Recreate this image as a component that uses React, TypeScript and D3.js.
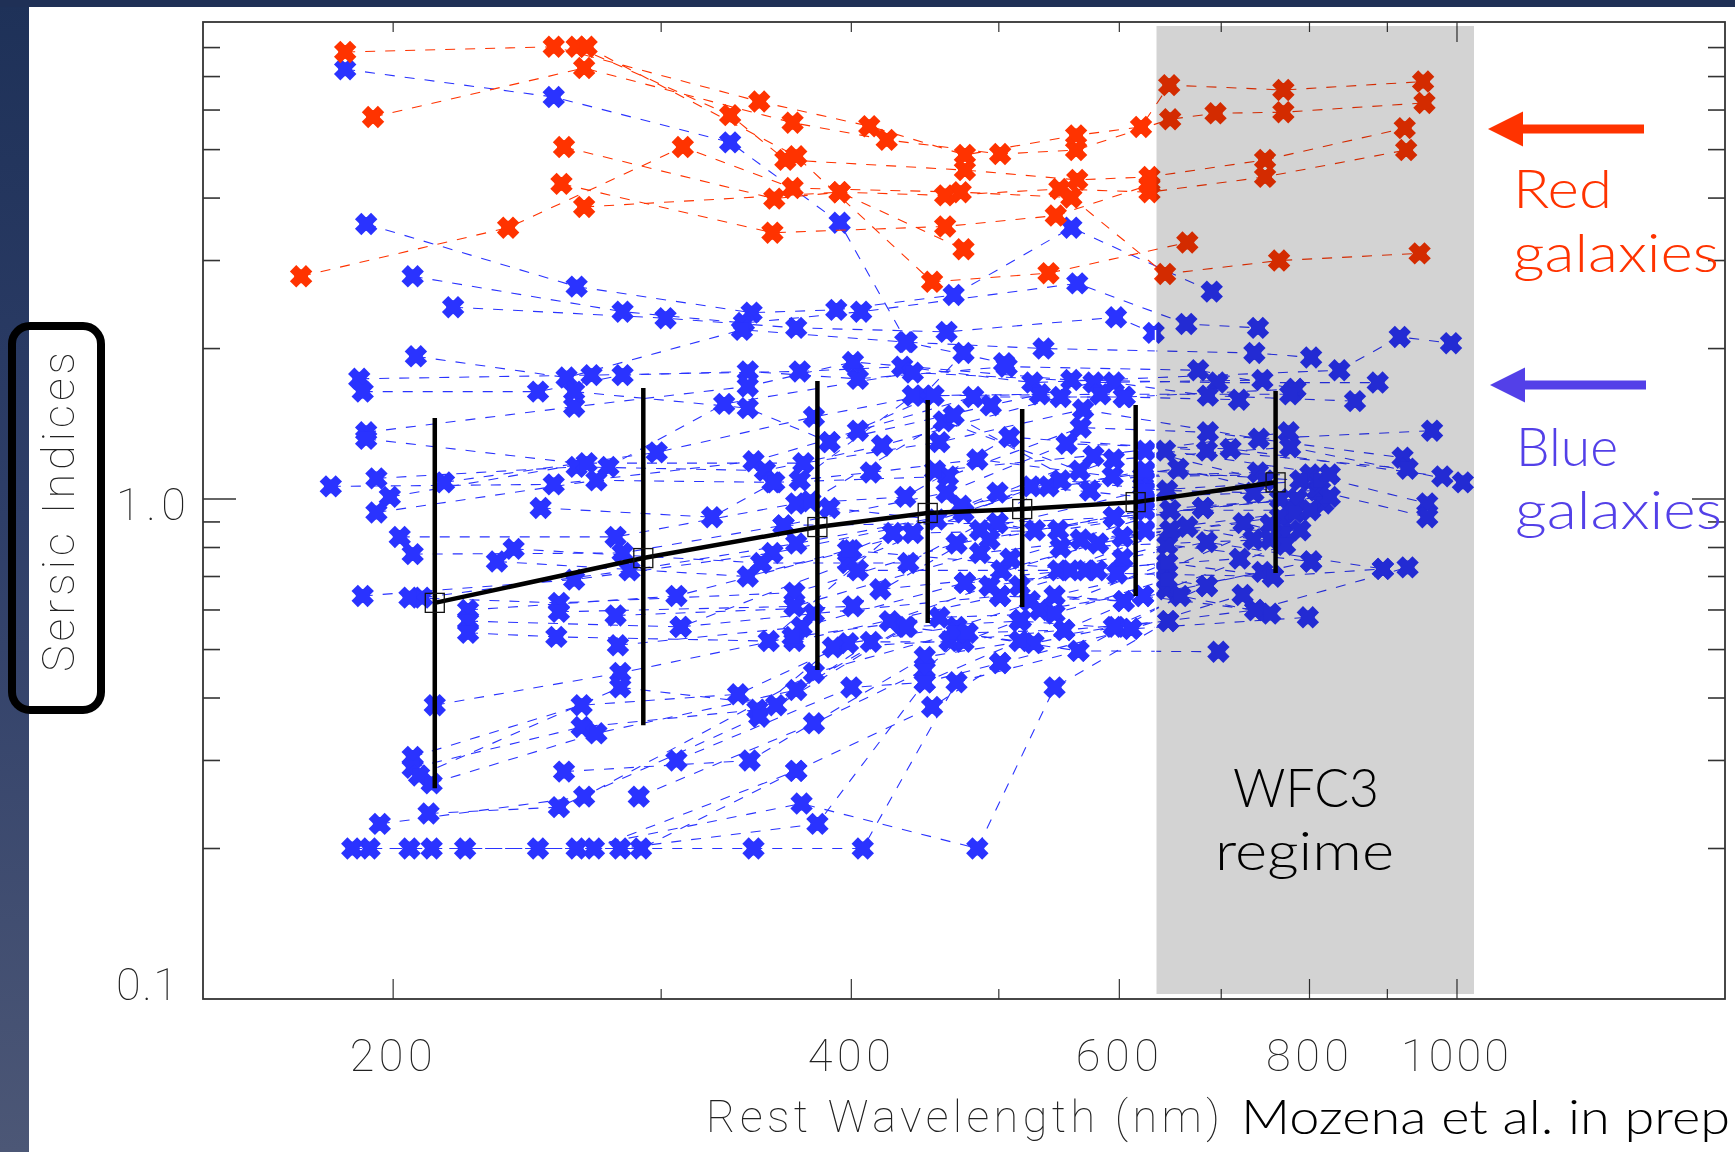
import React from 'react';
import * as d3 from 'd3';

// [rest wavelength in nm, Sersic index], one list per galaxy
const redGalaxies: number[][][] = [
  [[186,7.84],[255,8.03],[348,6.24],[411,5.57],[475,4.88],[562,5.34],[620,5.55],[647,6.73],[769,6.58],[950,6.84]],
  [[194,5.81],[267,7.28],[366,5.66],[422,5.23],[501,4.9],[562,4.99],[648,5.75],[694,5.91],[769,5.94],[952,6.2]],
  [[264,8.03],[333,5.86],[362,4.77],[475,4.55],[563,4.35],[628,4.41],[748,4.77],[924,5.52]],
  [[268,8.03],[368,4.85],[452,2.72],[539,2.83],[665,3.26]],
  [[259,5.06],[356,3.99],[393,4.11],[461,4.05],[548,4.17],[628,4.11],[748,4.41],[926,4.99]],
  [[174,2.79],[238,3.49],[310,5.06],[366,4.19],[472,4.11],[558,4.01],[643,2.82],[764,3.0],[945,3.1]],
  [[258,4.27],[355,3.41],[461,3.51],[545,3.69],[628,4.25]],
  [[267,3.84],[393,4.11],[474,3.16]],
];

const blueUpper: number[][][] = [
  [[186,7.24],[255,6.37],[333,5.17],[393,3.57],[435,2.06],[504,1.87]],
  [[192,3.55],[264,2.66],[344,2.36],[391,2.39],[467,2.56],[558,3.49],[690,2.6]],
  [[206,2.79],[283,2.37],[340,2.25],[406,2.37],[563,2.7],[664,2.24],[740,2.2]],
  [[219,2.42],[302,2.3],[368,2.2],[462,2.16],[597,2.31],[632,2.15]],
  [[207,1.93],[260,1.75],[339,2.18],[434,2.06],[535,2.0],[736,1.96],[802,1.92]],
  [[190,1.74],[270,1.77],[370,1.8],[432,1.84],[526,1.71],[837,1.81],[917,2.11],[991,2.05]],
  [[191,1.64],[249,1.64],[283,1.77],[342,1.8],[404,1.74],[506,1.84],[676,1.81],[783,1.66]],
  [[192,1.36],[263,1.53],[342,1.68],[401,1.88],[558,1.73],[696,1.71],[887,1.71]],
  [[192,1.32],[277,1.16],[330,1.55],[439,1.79],[595,1.71],[686,1.61],[857,1.57]],
  [[263,1.64],[342,1.52],[387,1.3],[494,1.54],[577,1.71],[745,1.73]],
  [[216,1.08],[298,1.24],[378,1.46],[446,1.61],[474,1.96]],
];

const blueMiddle: number[][][] = [
  [[182,1.06],[255,1.07],[345,1.19],[404,1.37],[481,1.6],[604,1.6],[719,1.58]],
  [[195,1.10],[264,1.16],[351,1.14],[419,1.28],[549,1.6],[605,1.6],[783,1.66]],
  [[199,1.01],[268,1.18],[372,1.18],[457,1.30],[568,1.51],[741,1.32],[963,1.37]],
  [[195,0.94],[272,1.09],[355,1.08],[463,1.11],[566,1.39],[686,1.36],[921,1.21]],
  [[202,0.84],[280,0.84],[368,0.98],[434,1.01],[508,1.33],[685,1.25],[928,1.15]],
  [[206,0.776],[283,0.78],[361,0.886],[462,1.03],[554,1.29],[710,1.26],[978,1.11]],
  [[191,0.64],[263,0.69],[355,0.78],[455,0.91],[577,1.22],[775,1.36]],
  [[209,0.635],[286,0.72],[368,0.815],[474,0.94],[595,1.2],[777,1.27],[1009,1.08]],
  [[224,0.6],[307,0.64],[400,0.79],[499,1.03],[622,1.11],[801,1.12],[956,0.98]],
  [[224,0.57],[309,0.555],[398,0.745],[525,1.06],[622,1.01],[809,1.04],[956,0.92]],
  [[224,0.54],[256,0.53],[353,0.52],[426,0.855],[539,1.06],[656,1.15],[817,0.98]],
  [[250,0.96],[324,0.92],[356,1.08],[412,1.13],[484,1.2],[594,1.11],[740,1.13]],
  [[240,0.795],[349,0.745],[436,0.745],[549,1.09],[645,1.04],[735,1.03]],
  [[234,0.75],[342,0.7],[439,0.855],[547,0.866],[681,0.96],[765,1.0]],
  [[205,0.635],[257,0.62],[367,0.65],[469,0.815],[595,0.92],[785,1.0]],
  [[257,0.595],[367,0.61],[486,0.78],[603,0.84],[765,0.92]],
  [[280,0.585],[401,0.61],[499,0.895],[566,0.83],[724,0.895],[769,0.855]],
  [[281,0.51],[371,0.555],[475,0.68],[581,0.815],[665,0.88],[735,0.83]],
  [[309,0.555],[378,0.59],[501,0.64],[603,0.76],[685,0.82],[894,0.725]],
  [[361,0.886],[499,0.895],[595,0.92],[785,1.0]],
  [[387,0.96],[528,0.866],[681,0.96]],
  [[404,0.72],[547,0.72],[645,0.81],[802,0.75]],
  [[398,0.79],[570,0.72],[645,0.745]],
  [[367,0.52],[501,0.64],[604,0.625]],
  [[475,0.68],[598,0.71],[757,0.7]],
  [[622,0.64],[737,0.6]],
];

// the crowded blobs around the WFC3 edge and near 800 nm
const blueCrowded: number[][][] = [
  [[454,1.14],[624,1.25],[748,1.09]],
  [[472,0.97],[624,1.14],[789,1.09]],
  [[486,0.866],[624,1.04],[813,1.09]],
  [[493,0.83],[624,0.95],[825,1.01]],
  [[502,0.72],[624,0.866],[783,0.94]],
  [[509,0.76],[648,0.95],[801,0.95]],
  [[516,0.67],[648,0.866],[789,0.866]],
  [[524,0.625],[643,0.72],[754,0.89]],
  [[532,0.6],[644,0.66],[771,0.81]],
  [[643,1.25],[825,1.12]],
  [[549,0.8],[754,0.83]],
  [[387,1.3],[453,1.61],[583,1.62],[777,1.62]],
  [[370,1.09],[439,1.61],[532,1.62]],
  [[376,0.99],[460,1.43],[565,1.14]],
  [[467,1.47],[574,1.04]],
  [[418,0.66],[557,0.72],[720,0.76]],
  [[424,0.57],[493,0.67],[580,0.72]],
];

const blueLower: number[][][] = [
  [[213,0.387],[282,0.449],[366,0.53],[457,0.58],[544,0.59],[645,0.69],[685,0.67]],
  [[206,0.305],[266,0.387],[337,0.407],[398,0.515],[469,0.555],[544,0.64],[604,0.625],[802,0.75]],
  [[206,0.29],[266,0.35],[347,0.379],[389,0.505],[464,0.52],[552,0.547],[622,0.64],[745,0.715]],
  [[208,0.28],[282,0.42],[357,0.387],[412,0.518],[474,0.518],[517,0.574],[645,0.745],[757,0.7],[894,0.725]],
  [[212,0.27],[272,0.34],[368,0.415],[434,0.555],[527,0.515],[597,0.555],[737,0.6],[928,0.73]],
  [[211,0.235],[257,0.242],[348,0.367],[435,0.555],[516,0.57],[611,0.55],[723,0.643]],
  [[196,0.224],[267,0.254],[378,0.449],[469,0.54],[564,0.497],[658,0.64],[754,0.59]],
  [[259,0.285],[343,0.3],[447,0.483],[595,0.555],[685,0.67]],
  [[290,0.254],[378,0.356],[447,0.455],[477,0.54],[552,0.547],[646,0.57]],
  [[307,0.3],[400,0.42],[447,0.43],[501,0.47],[611,0.55],[798,0.58]],
  [[188,0.2],[249,0.2],[345,0.2],[407,0.2],[469,0.43],[564,0.497],[697,0.495]],
  [[193,0.2],[264,0.2],[371,0.246],[484,0.2],[544,0.42],[646,0.57]],
  [[205,0.2],[271,0.2],[368,0.286],[452,0.384],[501,0.47]],
  [[212,0.2],[282,0.2],[380,0.224],[447,0.43],[516,0.52]],
  [[223,0.2],[291,0.2],[368,0.286]],
];

// median curve with its scatter bars
const binWavelength = [213, 292, 380, 449, 518, 615, 760];
const binMedian = [0.62, 0.762, 0.879, 0.938, 0.955, 0.986, 1.08];
const binLow = [0.264, 0.353, 0.455, 0.565, 0.608, 0.64, 0.711];
const binHigh = [1.452, 1.667, 1.722, 1.578, 1.514, 1.542, 1.644];

const xMajor = [200, 400, 600, 800, 1000];
const xMinor = [300, 500, 700, 900];
const xTickLabels = ['200', '400', '600', '800', '1000'];
const yMinor = [0.2, 0.3, 0.4, 0.5, 0.6, 0.7, 0.8, 0.9, 2, 3, 4, 5, 6, 7, 8];

const redColor = '#ff3300';
const blueColor = '#2a33ff';
const violet = '#5340e8';
const thinFont = 'Roboto';
const slideFont = 'Lato';

const x = d3.scaleLog().domain([150, 1500]).range([203, 1725]);
const y = d3.scaleLog().domain([0.1, 9]).range([999, 22]);
const trackLine = d3.line<number[]>().x(d => x(d[0])).y(d => y(d[1]));
const starPath = d3.symbol().type(d3.symbolTimes).size(170)() as string;
const starCore = d3.symbol().type(d3.symbolSquare).size(190)() as string;

const Tracks = ({ tracks, color }: { tracks: number[][][]; color: string }) => (
  <g>
    {tracks.map((t, i) => (
      <path key={i} d={trackLine(t) as string} fill="none" stroke={color} strokeWidth={1.1} strokeDasharray="10 10" />
    ))}
    {tracks.flat().map((p, i) => (
      <g key={i} transform={`translate(${x(p[0])},${y(p[1])})`}>
        <path d={starPath} fill="none" stroke={color} strokeWidth={9} />
        <path d={starCore} fill={color} />
      </g>
    ))}
  </g>
);

const Arrow = ({ tip, cy, color }: { tip: number; cy: number; color: string }) => (
  <path d={`M${tip},${cy}L${tip + 35},${cy - 17.5}V${cy - 4.5}H${tip + 156}V${cy + 4.5}H${tip + 35}V${cy + 17.5}Z`} fill={color} />
);

const App = () => {
  const blue = [...blueUpper, ...blueMiddle, ...blueCrowded, ...blueLower];
  const medianPts = binWavelength.map((w, i) => [w, binMedian[i]]);
  const axisColor = '#333';
  return (
    <svg width={1735} height={1152} style={{ position: 'absolute', left: 0, top: 0, background: '#fff' }}>
      <defs>
        <linearGradient id="slideBg" x1="0" y1="0" x2="0" y2="1">
          <stop offset="0" stopColor="#1e3158" />
          <stop offset="0.45" stopColor="#2e3e68" />
          <stop offset="1" stopColor="#4c5776" />
        </linearGradient>
      </defs>
      <rect x={0} y={0} width={29} height={1152} fill="url(#slideBg)" />
      <rect x={0} y={0} width={1735} height={7} fill="#1f3056" />

      <Tracks tracks={blue} color={blueColor} />
      <Tracks tracks={redGalaxies} color={redColor} />

      {/* median + scatter */}
      <path d={trackLine(medianPts) as string} fill="none" stroke="#000" strokeWidth={4.5} />
      {binWavelength.map((w, i) => (
        <g key={i}>
          <line x1={x(w)} x2={x(w)} y1={y(binLow[i])} y2={y(binHigh[i])} stroke="#000" strokeWidth={4.5} />
          <rect x={x(w) - 9.5} y={y(binMedian[i]) - 9.5} width={19} height={19} fill="none" stroke="#111" strokeWidth={1.3} />
        </g>
      ))}

      {/* frame and ticks */}
      <rect x={203} y={22} width={1522} height={977} fill="none" stroke={axisColor} strokeWidth={1.8} />
      {xMajor.map(v => (
        <g key={v} stroke={axisColor} strokeWidth={1.2}>
          <line x1={x(v)} x2={x(v)} y1={999} y2={979} />
          <line x1={x(v)} x2={x(v)} y1={22} y2={v === 1000 ? 42 : 32} />
        </g>
      ))}
      {xMinor.map(v => (
        <g key={v} stroke={axisColor} strokeWidth={1.2}>
          <line x1={x(v)} x2={x(v)} y1={999} y2={989} />
          <line x1={x(v)} x2={x(v)} y1={22} y2={32} />
        </g>
      ))}
      {yMinor.map(v => (
        <g key={v} stroke={axisColor} strokeWidth={1.6}>
          <line x1={203} x2={220} y1={y(v)} y2={y(v)} />
          <line x1={1708} x2={1725} y1={y(v)} y2={y(v)} />
        </g>
      ))}
      <g stroke={axisColor} strokeWidth={1.6}>
        <line x1={203} x2={236} y1={y(1)} y2={y(1)} />
        <line x1={1692} x2={1725} y1={y(1)} y2={y(1)} />
      </g>

      {/* WFC3 band lies over the data like a pasted translucent box */}
      <rect x={1156.5} y={26} width={317.5} height={968} fill="#d3d3d3" style={{ mixBlendMode: 'multiply' }} />
      <line x1={1155.5} x2={1155.5} y1={330} y2={660} stroke="#fff" strokeWidth={1.5} />

      <g fontFamily={thinFont} fontWeight={100} fontSize={45} fill="#222">
        {xMajor.map((v, i) => (
          <text key={v} x={x(v) - 2} y={1071} textAnchor="middle" textLength={v === 1000 ? 108 : 83}>
            {xTickLabels[i]}
          </text>
        ))}
        <text x={116} y={520} textLength={70}>1.0</text>
        <text x={116} y={1000} textLength={62}>0.1</text>
        <text x={706} y={1132} textLength={514}>Rest Wavelength (nm)</text>
        <text transform="translate(74,672) rotate(-90)" textLength={320}>Sersic Indices</text>
      </g>

      <rect x={12} y={326} width={89} height={384} rx={18} fill="none" stroke="#000" strokeWidth={8} />

      <g fontFamily={slideFont} fontWeight={300} fontSize={53}>
        <text x={1233} y={807} textLength={146} lengthAdjust="spacingAndGlyphs">WFC3</text>
        <text x={1215} y={870} textLength={179} lengthAdjust="spacingAndGlyphs">regime</text>
        <text x={1241} y={1134} fontSize={47} textLength={489} lengthAdjust="spacingAndGlyphs">Mozena et al. in prep</text>
        <g fill={redColor}>
          <text x={1513} y={208} textLength={99} lengthAdjust="spacingAndGlyphs">Red</text>
          <text x={1513} y={272} textLength={206} lengthAdjust="spacingAndGlyphs">galaxies</text>
        </g>
        <g fill={violet}>
          <text x={1516} y={466} textLength={102} lengthAdjust="spacingAndGlyphs">Blue</text>
          <text x={1515} y={529} textLength={207} lengthAdjust="spacingAndGlyphs">galaxies</text>
        </g>
      </g>
      <Arrow tip={1488} cy={129} color={redColor} />
      <Arrow tip={1490} cy={385} color={violet} />
    </svg>
  );
};

export default App;
